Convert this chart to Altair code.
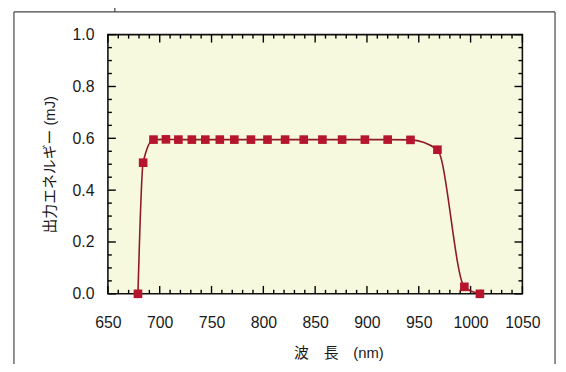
import altair as alt
import pandas as pd

# data
wavelength = [679, 684, 694, 706, 718, 731, 744, 758, 772, 788, 804, 821, 839, 857, 876, 898, 920, 942, 968, 994, 1009]
energy = [0.0, 0.506, 0.595, 0.596, 0.595, 0.595, 0.595, 0.595, 0.595, 0.595, 0.595, 0.595,
          0.595, 0.595, 0.595, 0.595, 0.595, 0.594, 0.556, 0.027, 0.0]

x_major = [650, 700, 750, 800, 850, 900, 950, 1000, 1050]
x_minor = [v for v in range(650, 1051, 10) if v % 50 != 0]
y_major = [0.0, 0.2, 0.4, 0.6, 0.8, 1.0]
y_minor = [round(v * 0.05, 2) for v in range(21) if v % 4 != 0]

W, H = 419, 262
FONT = "Liberation Sans, Arial, Noto Sans CJK JP"
LINE_COLOR = "#8e1b24"
MARK_COLOR = "#b5152d"

xscale = alt.Scale(domain=[650, 1050], nice=False, zero=False)
yscale = alt.Scale(domain=[0, 1], nice=False)

xaxis = alt.Axis(
    title="波　長　(nm)", values=x_major, format="d", ticks=False, grid=False, domain=False,
    labelFlush=False, labelOverlap=False,
    labelFontSize=16, labelFont=FONT, labelColor="#1a1a1a", labelPadding=21,
    titleFontSize=15, titleFont=FONT, titleFontWeight="normal", titleColor="#1a1a1a",
    titleX=233, titleY=59, titleBaseline="middle", titleAlign="center",
)
yaxis = alt.Axis(
    title="出力エネルギー (mJ)", values=y_major, format=".1f", ticks=False, grid=False, domain=False,
    labelFlush=False, labelOverlap=False,
    labelFontSize=16, labelFont=FONT, labelColor="#1a1a1a", labelPadding=14,
    titleFontSize=15, titleFont=FONT, titleFontWeight="normal", titleColor="#1a1a1a",
    titleX=-59, titleY=131, titleAngle=270, titleBaseline="middle", titleAlign="center",
)

def X(field):
    return alt.X(f"{field}:Q", scale=xscale, axis=xaxis)

def Y(field):
    return alt.Y(f"{field}:Q", scale=yscale, axis=yaxis)

df = pd.DataFrame({"wl": wavelength, "e": energy})

line = alt.Chart(df).mark_line(interpolate="monotone", color=LINE_COLOR, strokeWidth=1.6).encode(
    x=X("wl"), y=Y("e"))
pts = alt.Chart(df).mark_square(size=76, color=MARK_COLOR, opacity=1).encode(
    x=X("wl"), y=Y("e"))

tick_style = dict(color="#000", strokeWidth=1.4)

def xticks(vals, length):
    d = pd.DataFrame({"t": vals})
    bottom = alt.Chart(d).mark_rule(**tick_style).encode(
        x=X("t"), y=alt.value(H), y2=alt.value(H - length))
    top = alt.Chart(d).mark_rule(**tick_style).encode(
        x=X("t"), y=alt.value(0), y2=alt.value(length))
    return [bottom, top]

def yticks(vals, length):
    d = pd.DataFrame({"t": vals})
    left = alt.Chart(d).mark_rule(**tick_style).encode(
        y=Y("t"), x=alt.value(0), x2=alt.value(length))
    right = alt.Chart(d).mark_rule(**tick_style).encode(
        y=Y("t"), x=alt.value(W), x2=alt.value(W - length))
    return [left, right]

one = pd.DataFrame({"k": [0]})
frame_style = dict(color="#444", strokeWidth=1.2)
frame = [
    alt.Chart(one).mark_rule(**frame_style).encode(x=alt.value(-95), y=alt.value(-23), y2=alt.value(400)),
    alt.Chart(one).mark_rule(**frame_style).encode(x=alt.value(-95), x2=alt.value(452), y=alt.value(-23)),
    alt.Chart(one).mark_rule(**frame_style).encode(x=alt.value(452), y=alt.value(-23), y2=alt.value(400)),
    alt.Chart(one).mark_rule(**frame_style).encode(x=alt.value(7), y=alt.value(-40), y2=alt.value(-23)),
]

layers = (frame + xticks(x_major, 8) + xticks(x_minor, 4) + yticks(y_major, 8) + yticks(y_minor, 4)
          + [line, pts])

chart = alt.layer(*layers).properties(
    width=W, height=H,
    autosize=alt.AutoSizeParams(type="none"),
    padding={"left": 101, "top": 25, "right": 36, "bottom": 69},
    background="white",
).configure_view(fill="#f6f9dd", stroke="#111", strokeWidth=1.6)

chart.save("out.html", embed_options={"renderer": "svg", "actions": False})
